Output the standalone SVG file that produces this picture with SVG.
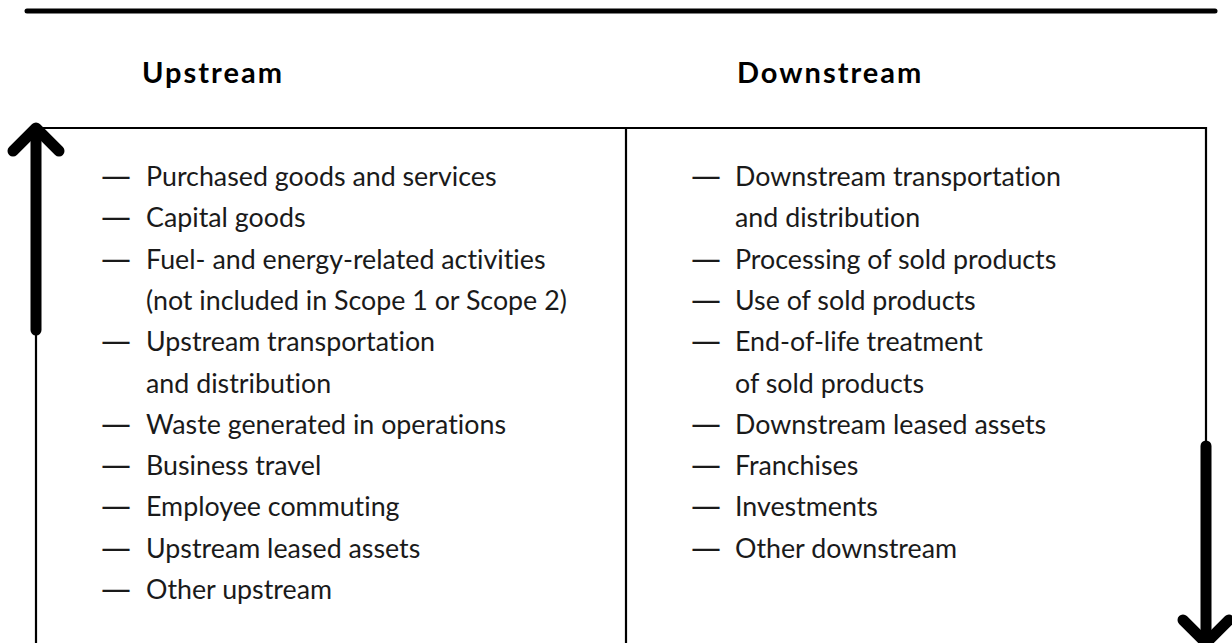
<svg xmlns="http://www.w3.org/2000/svg" width="1232" height="643" viewBox="0 0 1232 643">
<style>
.h{font-family:Lato,"Open Sans",sans-serif;font-weight:700;font-size:29px;letter-spacing:2px;fill:#000}
.t{font-family:Lato,"Open Sans",sans-serif;font-size:26.8px;fill:#1a1a1a;font-variant-ligatures:none}
.d{font-family:"DejaVu Sans",sans-serif;font-size:30px;fill:#1a1a1a}
.thin{stroke:#000;stroke-width:2.2;fill:none}
.thick{stroke:#000;stroke-width:11;fill:none;stroke-linecap:round;stroke-linejoin:round}
</style>
<rect width="1232" height="643" fill="#fff"/>
<line x1="27" y1="11" x2="1215" y2="11" stroke="#000" stroke-width="5" stroke-linecap="round"/>
<g id="headings">
<text class="h" x="142" y="83">Upstream</text>
<text class="h" x="737" y="83">Downstream</text>
</g>
<g id="frame">
<polyline class="thin" points="36,643 36,128 1206,128 1206,450"/>
<line class="thin" x1="626" y1="128" x2="626" y2="643"/>
</g>
<g id="connectors">
<g id="arrow-up">
<line class="thick" x1="36" y1="330" x2="36" y2="130"/>
<polyline class="thick" points="13,151 36,128 59,151"/>
</g>
<g id="arrow-down">
<line class="thick" x1="1206" y1="446" x2="1206" y2="640"/>
<polyline class="thick" points="1183,620 1206,643 1229,620"/>
</g>
</g>
<g id="upstream-list">
<text class="d" x="101" y="186">—</text><text class="t" x="146" y="186">Purchased goods and services</text>
<text class="d" x="101" y="227.3">—</text><text class="t" x="146" y="227.3">Capital goods</text>
<text class="d" x="101" y="268.6">—</text><text class="t" x="146" y="268.6">Fuel- and energy-related activities</text>
<text class="t" x="146" y="309.9">(not included in Scope 1 or Scope 2)</text>
<text class="d" x="101" y="351.2">—</text><text class="t" x="146" y="351.2">Upstream transportation</text>
<text class="t" x="146" y="392.5">and distribution</text>
<text class="d" x="101" y="433.8">—</text><text class="t" x="146" y="433.8">Waste generated in operations</text>
<text class="d" x="101" y="475.1">—</text><text class="t" x="146" y="475.1">Business travel</text>
<text class="d" x="101" y="516.4">—</text><text class="t" x="146" y="516.4">Employee commuting</text>
<text class="d" x="101" y="557.7">—</text><text class="t" x="146" y="557.7">Upstream leased assets</text>
<text class="d" x="101" y="599">—</text><text class="t" x="146" y="599">Other upstream</text>
</g>
<g id="downstream-list">
<text class="d" x="691" y="186">—</text><text class="t" x="735" y="186">Downstream transportation</text>
<text class="t" x="735" y="227.3">and distribution</text>
<text class="d" x="691" y="268.6">—</text><text class="t" x="735" y="268.6">Processing of sold products</text>
<text class="d" x="691" y="309.9">—</text><text class="t" x="735" y="309.9">Use of sold products</text>
<text class="d" x="691" y="351.2">—</text><text class="t" x="735" y="351.2">End-of-life treatment</text>
<text class="t" x="735" y="392.5">of sold products</text>
<text class="d" x="691" y="433.8">—</text><text class="t" x="735" y="433.8">Downstream leased assets</text>
<text class="d" x="691" y="475.1">—</text><text class="t" x="735" y="475.1">Franchises</text>
<text class="d" x="691" y="516.4">—</text><text class="t" x="735" y="516.4">Investments</text>
<text class="d" x="691" y="557.7">—</text><text class="t" x="735" y="557.7">Other downstream</text>
</g>
</svg>
